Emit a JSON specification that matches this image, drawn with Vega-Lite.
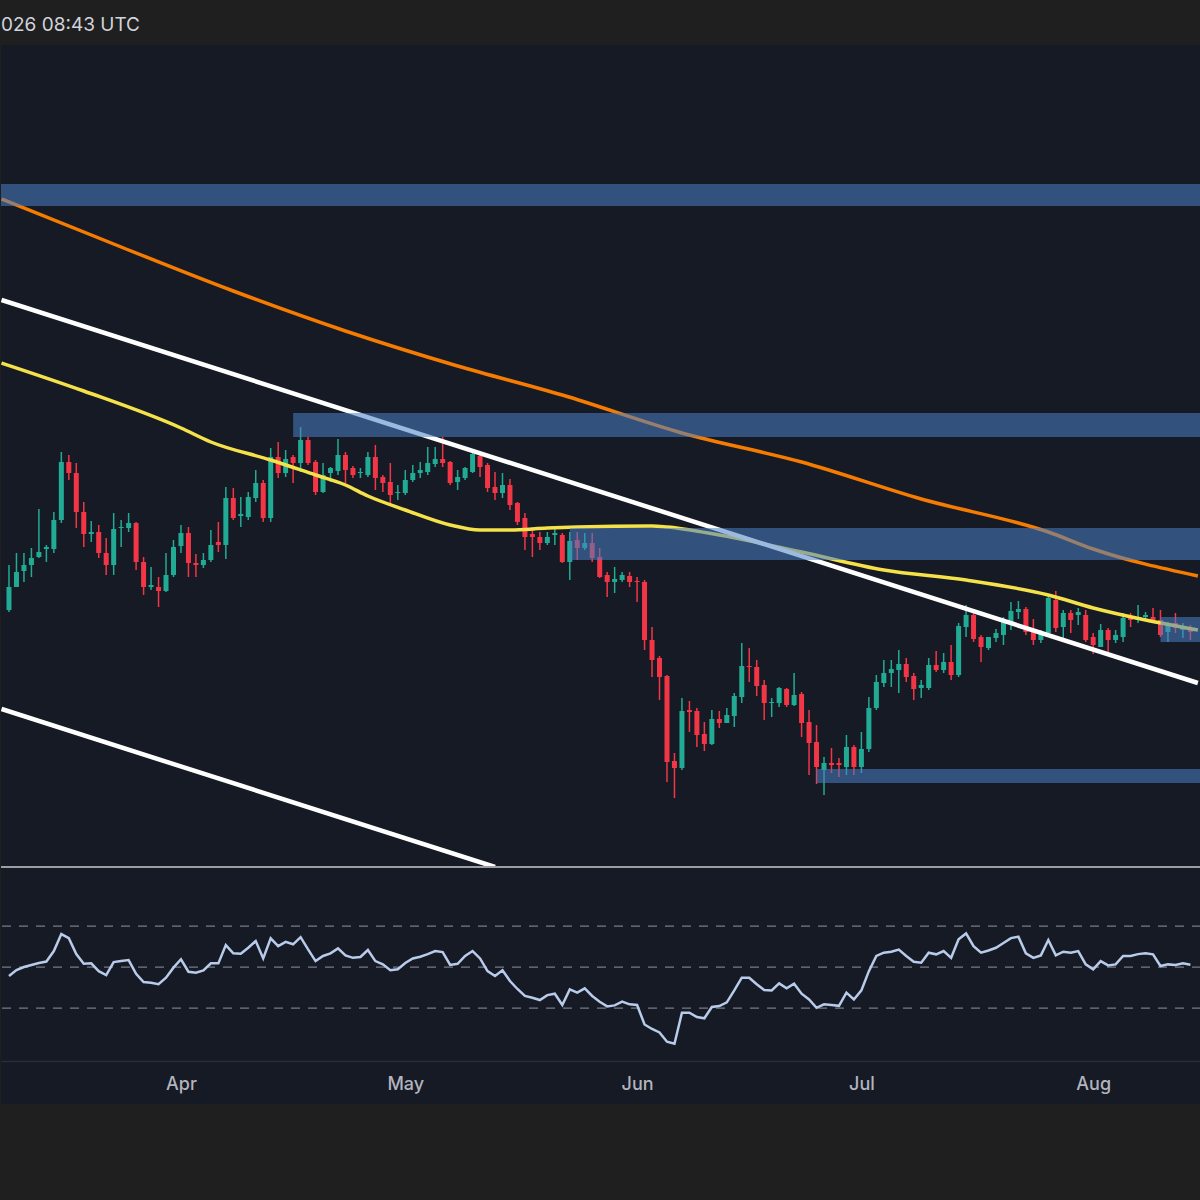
{
  "$schema": "https://vega.github.io/schema/vega-lite/v6.json",
  "description": "Daily candles with two moving averages, trendlines, supply/demand zones and RSI",
  "background": "#1f1f1f",
  "padding": {"left": 0, "top": 16, "right": 0, "bottom": 97},
  "title": {
    "text": "026 08:43 UTC",
    "anchor": "start",
    "frame": "group",
    "font": "Inter",
    "fontSize": 19,
    "fontWeight": "normal",
    "color": "#d1d4dc",
    "offset": 10
  },
  "spacing": 0,
  "config": {
    "view": {"stroke": null},
    "axis": {"grid": false, "ticks": false}
  },
  "resolve": {"scale": {"x": "shared", "y": "independent"}},
  "datasets": {
    "candles": [
      {"d": "2025-03-09", "o": 85.6, "h": 90.1, "l": 85.4, "c": 87.9, "r": 45.6},
      {"d": "2025-03-10", "o": 87.9, "h": 91.3, "l": 87.9, "c": 89.4, "r": 48.5},
      {"d": "2025-03-11", "o": 89.5, "h": 91.3, "l": 88.4, "c": 90.1, "r": 50.0},
      {"d": "2025-03-12", "o": 90.1, "h": 91.8, "l": 88.9, "c": 90.8, "r": 51.0},
      {"d": "2025-03-13", "o": 90.9, "h": 95.7, "l": 90.8, "c": 91.4, "r": 52.0},
      {"d": "2025-03-14", "o": 91.7, "h": 92.1, "l": 90.4, "c": 91.9, "r": 52.7},
      {"d": "2025-03-15", "o": 91.7, "h": 95.4, "l": 91.3, "c": 94.6, "r": 57.8},
      {"d": "2025-03-16", "o": 94.6, "h": 101.4, "l": 94.3, "c": 100.4, "r": 66.1},
      {"d": "2025-03-17", "o": 100.4, "h": 101.1, "l": 98.6, "c": 99.3, "r": 64.1},
      {"d": "2025-03-18", "o": 99.3, "h": 100.3, "l": 93.8, "c": 95.4, "r": 56.3},
      {"d": "2025-03-19", "o": 95.4, "h": 96.4, "l": 91.9, "c": 93.2, "r": 51.6},
      {"d": "2025-03-20", "o": 93.2, "h": 94.5, "l": 92.4, "c": 93.4, "r": 51.8},
      {"d": "2025-03-21", "o": 93.4, "h": 94.1, "l": 90.8, "c": 91.3, "r": 48.0},
      {"d": "2025-03-22", "o": 91.3, "h": 92.8, "l": 89.1, "c": 90.1, "r": 46.1},
      {"d": "2025-03-23", "o": 90.1, "h": 95.3, "l": 89.1, "c": 93.7, "r": 52.4},
      {"d": "2025-03-24", "o": 93.8, "h": 94.6, "l": 91.9, "c": 93.9, "r": 52.9},
      {"d": "2025-03-25", "o": 93.8, "h": 95.3, "l": 93.4, "c": 94.3, "r": 53.4},
      {"d": "2025-03-26", "o": 94.3, "h": 94.4, "l": 89.6, "c": 90.4, "r": 46.7},
      {"d": "2025-03-27", "o": 90.4, "h": 90.9, "l": 87.1, "c": 87.9, "r": 42.7},
      {"d": "2025-03-28", "o": 87.9, "h": 89.9, "l": 87.6, "c": 88.1, "r": 42.3},
      {"d": "2025-03-29", "o": 87.9, "h": 88.9, "l": 85.9, "c": 87.5, "r": 41.6},
      {"d": "2025-03-30", "o": 87.5, "h": 91.3, "l": 87.4, "c": 89.1, "r": 44.8},
      {"d": "2025-03-31", "o": 89.1, "h": 92.6, "l": 88.9, "c": 91.9, "r": 49.7},
      {"d": "2025-04-01", "o": 92.0, "h": 94.1, "l": 91.3, "c": 93.3, "r": 53.8},
      {"d": "2025-04-02", "o": 93.3, "h": 93.9, "l": 88.9, "c": 90.3, "r": 47.7},
      {"d": "2025-04-03", "o": 90.3, "h": 91.2, "l": 88.9, "c": 90.1, "r": 47.2},
      {"d": "2025-04-04", "o": 90.1, "h": 91.3, "l": 89.8, "c": 90.6, "r": 48.4},
      {"d": "2025-04-05", "o": 90.6, "h": 93.6, "l": 90.4, "c": 92.1, "r": 51.8},
      {"d": "2025-04-06", "o": 92.4, "h": 94.4, "l": 91.4, "c": 92.1, "r": 51.8},
      {"d": "2025-04-07", "o": 92.1, "h": 97.9, "l": 90.7, "c": 96.8, "r": 60.7},
      {"d": "2025-04-08", "o": 96.8, "h": 97.8, "l": 94.6, "c": 94.8, "r": 56.7},
      {"d": "2025-04-09", "o": 95.0, "h": 96.9, "l": 93.9, "c": 95.2, "r": 56.5},
      {"d": "2025-04-10", "o": 94.9, "h": 97.4, "l": 94.6, "c": 96.9, "r": 59.4},
      {"d": "2025-04-11", "o": 96.8, "h": 99.6, "l": 96.4, "c": 98.3, "r": 62.7},
      {"d": "2025-04-12", "o": 98.3, "h": 98.6, "l": 94.4, "c": 94.8, "r": 54.2},
      {"d": "2025-04-13", "o": 94.8, "h": 101.8, "l": 94.4, "c": 100.9, "r": 64.0},
      {"d": "2025-04-14", "o": 100.9, "h": 102.4, "l": 98.8, "c": 99.3, "r": 60.2},
      {"d": "2025-04-15", "o": 99.3, "h": 101.6, "l": 98.9, "c": 100.7, "r": 62.3},
      {"d": "2025-04-16", "o": 100.9, "h": 101.1, "l": 98.3, "c": 100.3, "r": 61.1},
      {"d": "2025-04-17", "o": 100.3, "h": 103.9, "l": 99.4, "c": 102.6, "r": 64.6},
      {"d": "2025-04-18", "o": 102.6, "h": 102.9, "l": 100.1, "c": 100.3, "r": 58.6},
      {"d": "2025-04-19", "o": 100.4, "h": 100.6, "l": 97.1, "c": 97.4, "r": 52.9},
      {"d": "2025-04-20", "o": 97.4, "h": 100.3, "l": 97.3, "c": 99.1, "r": 55.4},
      {"d": "2025-04-21", "o": 99.3, "h": 99.9, "l": 98.4, "c": 99.8, "r": 56.7},
      {"d": "2025-04-22", "o": 99.5, "h": 102.7, "l": 99.1, "c": 101.1, "r": 59.1},
      {"d": "2025-04-23", "o": 101.1, "h": 101.4, "l": 98.3, "c": 99.6, "r": 55.7},
      {"d": "2025-04-24", "o": 99.8, "h": 100.0, "l": 98.8, "c": 99.1, "r": 54.5},
      {"d": "2025-04-25", "o": 99.3, "h": 99.8, "l": 98.8, "c": 99.4, "r": 54.9},
      {"d": "2025-04-26", "o": 99.1, "h": 101.4, "l": 98.9, "c": 100.9, "r": 58.3},
      {"d": "2025-04-27", "o": 100.9, "h": 102.1, "l": 97.6, "c": 98.8, "r": 52.9},
      {"d": "2025-04-28", "o": 98.9, "h": 99.1, "l": 97.4, "c": 98.3, "r": 51.3},
      {"d": "2025-04-29", "o": 98.4, "h": 100.3, "l": 96.1, "c": 97.1, "r": 48.5},
      {"d": "2025-04-30", "o": 97.3, "h": 98.1, "l": 96.6, "c": 97.4, "r": 48.9},
      {"d": "2025-05-01", "o": 97.3, "h": 99.6, "l": 97.1, "c": 98.6, "r": 52.0},
      {"d": "2025-05-02", "o": 98.6, "h": 100.1, "l": 98.4, "c": 99.3, "r": 54.2},
      {"d": "2025-05-03", "o": 99.3, "h": 100.4, "l": 98.8, "c": 99.6, "r": 55.0},
      {"d": "2025-05-04", "o": 99.4, "h": 101.9, "l": 99.1, "c": 100.3, "r": 56.3},
      {"d": "2025-05-05", "o": 100.2, "h": 101.9, "l": 99.9, "c": 100.7, "r": 57.8},
      {"d": "2025-05-06", "o": 100.7, "h": 102.9, "l": 99.9, "c": 100.3, "r": 57.3},
      {"d": "2025-05-07", "o": 100.4, "h": 100.5, "l": 98.1, "c": 98.3, "r": 51.0},
      {"d": "2025-05-08", "o": 98.4, "h": 99.6, "l": 97.6, "c": 98.9, "r": 51.6},
      {"d": "2025-05-09", "o": 98.8, "h": 99.9, "l": 98.6, "c": 99.8, "r": 55.4},
      {"d": "2025-05-10", "o": 99.4, "h": 101.4, "l": 99.3, "c": 101.2, "r": 57.8},
      {"d": "2025-05-11", "o": 101.0, "h": 101.1, "l": 98.9, "c": 99.9, "r": 54.2},
      {"d": "2025-05-12", "o": 100.1, "h": 100.3, "l": 97.4, "c": 97.8, "r": 48.0},
      {"d": "2025-05-13", "o": 97.9, "h": 99.4, "l": 96.6, "c": 97.3, "r": 45.6},
      {"d": "2025-05-14", "o": 97.3, "h": 99.3, "l": 96.8, "c": 98.1, "r": 48.4},
      {"d": "2025-05-15", "o": 98.1, "h": 98.7, "l": 95.6, "c": 96.1, "r": 43.2},
      {"d": "2025-05-16", "o": 96.3, "h": 96.4, "l": 94.1, "c": 94.4, "r": 39.3},
      {"d": "2025-05-17", "o": 94.8, "h": 95.3, "l": 91.6, "c": 92.9, "r": 35.9},
      {"d": "2025-05-18", "o": 93.2, "h": 93.9, "l": 90.9, "c": 92.9, "r": 35.0},
      {"d": "2025-05-19", "o": 92.9, "h": 93.4, "l": 91.6, "c": 92.3, "r": 33.9},
      {"d": "2025-05-20", "o": 92.3, "h": 93.4, "l": 92.1, "c": 92.9, "r": 36.3},
      {"d": "2025-05-21", "o": 93.1, "h": 93.8, "l": 92.1, "c": 93.3, "r": 37.0},
      {"d": "2025-05-22", "o": 93.1, "h": 93.3, "l": 90.3, "c": 90.4, "r": 31.5},
      {"d": "2025-05-23", "o": 90.4, "h": 93.4, "l": 88.6, "c": 92.5, "r": 39.1},
      {"d": "2025-05-24", "o": 92.6, "h": 93.4, "l": 90.6, "c": 91.8, "r": 37.5},
      {"d": "2025-05-25", "o": 91.8, "h": 93.3, "l": 91.6, "c": 92.3, "r": 39.6},
      {"d": "2025-05-26", "o": 92.3, "h": 93.3, "l": 90.4, "c": 90.8, "r": 35.9},
      {"d": "2025-05-27", "o": 90.9, "h": 91.8, "l": 88.8, "c": 88.9, "r": 33.1},
      {"d": "2025-05-28", "o": 89.1, "h": 89.4, "l": 86.9, "c": 88.4, "r": 30.8},
      {"d": "2025-05-29", "o": 88.4, "h": 89.9, "l": 87.3, "c": 88.7, "r": 31.3},
      {"d": "2025-05-30", "o": 88.6, "h": 89.4, "l": 88.4, "c": 89.1, "r": 33.1},
      {"d": "2025-05-31", "o": 89.0, "h": 89.4, "l": 87.9, "c": 88.4, "r": 31.8},
      {"d": "2025-06-01", "o": 88.5, "h": 88.9, "l": 86.4, "c": 88.4, "r": 31.5},
      {"d": "2025-06-02", "o": 88.4, "h": 88.6, "l": 81.6, "c": 82.6, "r": 22.0},
      {"d": "2025-06-03", "o": 82.6, "h": 83.9, "l": 78.9, "c": 80.6, "r": 19.8},
      {"d": "2025-06-04", "o": 80.8, "h": 81.0, "l": 76.6, "c": 78.9, "r": 18.1},
      {"d": "2025-06-05", "o": 79.0, "h": 79.1, "l": 68.4, "c": 70.4, "r": 13.6},
      {"d": "2025-06-06", "o": 70.5, "h": 71.3, "l": 66.8, "c": 69.8, "r": 12.6},
      {"d": "2025-06-07", "o": 69.8, "h": 76.8, "l": 69.6, "c": 75.5, "r": 27.7},
      {"d": "2025-06-08", "o": 75.6, "h": 76.5, "l": 73.4, "c": 75.4, "r": 27.7},
      {"d": "2025-06-09", "o": 75.5, "h": 75.8, "l": 71.9, "c": 73.1, "r": 25.6},
      {"d": "2025-06-10", "o": 73.2, "h": 74.4, "l": 71.5, "c": 72.2, "r": 25.0},
      {"d": "2025-06-11", "o": 72.2, "h": 75.6, "l": 72.1, "c": 74.7, "r": 30.5},
      {"d": "2025-06-12", "o": 74.7, "h": 75.5, "l": 73.8, "c": 74.3, "r": 31.0},
      {"d": "2025-06-13", "o": 74.3, "h": 75.8, "l": 74.3, "c": 75.1, "r": 32.8},
      {"d": "2025-06-14", "o": 75.0, "h": 77.3, "l": 73.9, "c": 77.0, "r": 38.6},
      {"d": "2025-06-15", "o": 76.9, "h": 82.3, "l": 76.3, "c": 80.0, "r": 44.8},
      {"d": "2025-06-16", "o": 80.0, "h": 81.8, "l": 78.4, "c": 79.9, "r": 44.8},
      {"d": "2025-06-17", "o": 79.9, "h": 80.6, "l": 77.0, "c": 78.0, "r": 41.6},
      {"d": "2025-06-18", "o": 78.1, "h": 78.6, "l": 74.6, "c": 76.3, "r": 38.8},
      {"d": "2025-06-19", "o": 76.3, "h": 76.8, "l": 74.9, "c": 76.4, "r": 38.6},
      {"d": "2025-06-20", "o": 76.3, "h": 77.9, "l": 75.9, "c": 77.8, "r": 42.0},
      {"d": "2025-06-21", "o": 77.7, "h": 77.8, "l": 75.9, "c": 76.1, "r": 39.6},
      {"d": "2025-06-22", "o": 76.1, "h": 79.3, "l": 76.0, "c": 77.1, "r": 41.9},
      {"d": "2025-06-23", "o": 77.2, "h": 77.4, "l": 72.9, "c": 74.3, "r": 37.0},
      {"d": "2025-06-24", "o": 74.4, "h": 75.6, "l": 69.1, "c": 72.3, "r": 34.2},
      {"d": "2025-06-25", "o": 72.4, "h": 74.1, "l": 68.2, "c": 69.9, "r": 30.1},
      {"d": "2025-06-26", "o": 69.6, "h": 70.9, "l": 67.1, "c": 70.3, "r": 31.8},
      {"d": "2025-06-27", "o": 70.3, "h": 71.8, "l": 69.3, "c": 70.1, "r": 31.5},
      {"d": "2025-06-28", "o": 70.3, "h": 70.8, "l": 68.9, "c": 70.1, "r": 31.1},
      {"d": "2025-06-29", "o": 69.9, "h": 73.1, "l": 69.1, "c": 71.9, "r": 37.5},
      {"d": "2025-06-30", "o": 71.9, "h": 72.1, "l": 69.1, "c": 69.9, "r": 34.2},
      {"d": "2025-07-01", "o": 69.9, "h": 73.4, "l": 69.3, "c": 71.7, "r": 38.6},
      {"d": "2025-07-02", "o": 71.7, "h": 76.9, "l": 71.4, "c": 75.8, "r": 48.0},
      {"d": "2025-07-03", "o": 75.8, "h": 79.1, "l": 75.6, "c": 78.4, "r": 55.4},
      {"d": "2025-07-04", "o": 78.3, "h": 80.6, "l": 77.9, "c": 79.3, "r": 57.0},
      {"d": "2025-07-05", "o": 79.3, "h": 80.6, "l": 77.9, "c": 79.7, "r": 57.5},
      {"d": "2025-07-06", "o": 79.6, "h": 81.6, "l": 77.3, "c": 80.2, "r": 58.5},
      {"d": "2025-07-07", "o": 80.2, "h": 80.8, "l": 78.4, "c": 78.9, "r": 55.4},
      {"d": "2025-07-08", "o": 79.0, "h": 79.3, "l": 76.6, "c": 77.7, "r": 52.6},
      {"d": "2025-07-09", "o": 77.8, "h": 78.6, "l": 76.8, "c": 78.1, "r": 52.1},
      {"d": "2025-07-10", "o": 77.8, "h": 80.8, "l": 77.6, "c": 80.1, "r": 57.0},
      {"d": "2025-07-11", "o": 80.1, "h": 81.5, "l": 79.4, "c": 79.6, "r": 56.2},
      {"d": "2025-07-12", "o": 79.6, "h": 81.3, "l": 79.3, "c": 80.4, "r": 57.8},
      {"d": "2025-07-13", "o": 80.4, "h": 82.1, "l": 78.6, "c": 79.1, "r": 54.5},
      {"d": "2025-07-14", "o": 79.1, "h": 84.3, "l": 78.9, "c": 84.0, "r": 63.5},
      {"d": "2025-07-15", "o": 83.9, "h": 86.1, "l": 82.9, "c": 85.1, "r": 66.4},
      {"d": "2025-07-16", "o": 85.1, "h": 85.4, "l": 82.4, "c": 82.7, "r": 60.2},
      {"d": "2025-07-17", "o": 82.9, "h": 83.1, "l": 80.4, "c": 81.9, "r": 57.0},
      {"d": "2025-07-18", "o": 81.8, "h": 82.9, "l": 81.6, "c": 82.9, "r": 58.1},
      {"d": "2025-07-19", "o": 82.8, "h": 83.7, "l": 82.4, "c": 83.3, "r": 59.4},
      {"d": "2025-07-20", "o": 83.1, "h": 84.9, "l": 82.1, "c": 84.5, "r": 61.7},
      {"d": "2025-07-21", "o": 84.4, "h": 86.4, "l": 83.6, "c": 85.5, "r": 64.1},
      {"d": "2025-07-22", "o": 85.4, "h": 86.5, "l": 84.7, "c": 85.7, "r": 64.8},
      {"d": "2025-07-23", "o": 85.7, "h": 85.9, "l": 83.1, "c": 83.4, "r": 56.7},
      {"d": "2025-07-24", "o": 83.5, "h": 84.7, "l": 82.1, "c": 82.6, "r": 54.5},
      {"d": "2025-07-25", "o": 82.6, "h": 83.6, "l": 82.3, "c": 83.3, "r": 55.7},
      {"d": "2025-07-26", "o": 83.3, "h": 87.1, "l": 83.1, "c": 86.8, "r": 63.2},
      {"d": "2025-07-27", "o": 86.6, "h": 87.5, "l": 83.4, "c": 83.8, "r": 55.7},
      {"d": "2025-07-28", "o": 83.9, "h": 85.6, "l": 82.8, "c": 85.3, "r": 57.5},
      {"d": "2025-07-29", "o": 85.3, "h": 85.6, "l": 83.3, "c": 84.6, "r": 57.0},
      {"d": "2025-07-30", "o": 85.1, "h": 85.8, "l": 84.1, "c": 85.4, "r": 57.8},
      {"d": "2025-07-31", "o": 85.1, "h": 85.6, "l": 82.4, "c": 82.6, "r": 51.3},
      {"d": "2025-08-01", "o": 82.9, "h": 83.3, "l": 81.2, "c": 82.1, "r": 48.9},
      {"d": "2025-08-02", "o": 81.9, "h": 84.2, "l": 81.9, "c": 83.6, "r": 52.9},
      {"d": "2025-08-03", "o": 83.6, "h": 83.8, "l": 81.4, "c": 82.6, "r": 50.8},
      {"d": "2025-08-04", "o": 82.6, "h": 83.6, "l": 82.3, "c": 83.1, "r": 51.3},
      {"d": "2025-08-05", "o": 82.9, "h": 85.3, "l": 82.4, "c": 84.8, "r": 55.4},
      {"d": "2025-08-06", "o": 84.9, "h": 85.3, "l": 83.9, "c": 84.6, "r": 55.4},
      {"d": "2025-08-07", "o": 84.6, "h": 86.1, "l": 84.3, "c": 84.9, "r": 56.3},
      {"d": "2025-08-08", "o": 84.9, "h": 85.4, "l": 84.6, "c": 85.1, "r": 56.7},
      {"d": "2025-08-09", "o": 84.9, "h": 85.8, "l": 84.4, "c": 84.6, "r": 56.2},
      {"d": "2025-08-10", "o": 84.6, "h": 85.6, "l": 82.9, "c": 83.1, "r": 50.5},
      {"d": "2025-08-11", "o": 83.4, "h": 84.4, "l": 82.4, "c": 84.1, "r": 51.3},
      {"d": "2025-08-12", "o": 84.3, "h": 85.3, "l": 83.3, "c": 83.8, "r": 51.0},
      {"d": "2025-08-13", "o": 83.6, "h": 84.3, "l": 82.8, "c": 83.9, "r": 51.8},
      {"d": "2025-08-14", "o": 83.8, "h": 84.1, "l": 82.6, "c": 83.4, "r": 51.1}
    ],
    "lines": [
      {"name": "ma100", "d": "2025-03-08", "v": 110.3},
      {"name": "ma100", "d": "2025-03-19", "v": 107.5},
      {"name": "ma100", "d": "2025-04-01", "v": 103.8},
      {"name": "ma100", "d": "2025-04-05", "v": 102.4},
      {"name": "ma100", "d": "2025-04-13", "v": 100.6},
      {"name": "ma100", "d": "2025-04-19", "v": 99.1},
      {"name": "ma100", "d": "2025-04-23", "v": 98.1},
      {"name": "ma100", "d": "2025-04-26", "v": 97.0},
      {"name": "ma100", "d": "2025-05-01", "v": 95.6},
      {"name": "ma100", "d": "2025-05-07", "v": 94.1},
      {"name": "ma100", "d": "2025-05-11", "v": 93.6},
      {"name": "ma100", "d": "2025-05-15", "v": 93.6},
      {"name": "ma100", "d": "2025-05-20", "v": 93.8},
      {"name": "ma100", "d": "2025-05-24", "v": 93.9},
      {"name": "ma100", "d": "2025-06-03", "v": 94.0},
      {"name": "ma100", "d": "2025-06-05", "v": 93.9},
      {"name": "ma100", "d": "2025-06-12", "v": 93.1},
      {"name": "ma100", "d": "2025-06-23", "v": 91.4},
      {"name": "ma100", "d": "2025-07-04", "v": 89.6},
      {"name": "ma100", "d": "2025-07-15", "v": 88.6},
      {"name": "ma100", "d": "2025-07-26", "v": 87.1},
      {"name": "ma100", "d": "2025-08-01", "v": 85.8},
      {"name": "ma100", "d": "2025-08-08", "v": 84.6},
      {"name": "ma100", "d": "2025-08-15", "v": 83.6},
      {"name": "ma200", "d": "2025-03-08", "v": 126.7},
      {"name": "ma200", "d": "2025-03-24", "v": 121.9},
      {"name": "ma200", "d": "2025-04-08", "v": 117.5},
      {"name": "ma200", "d": "2025-04-23", "v": 113.5},
      {"name": "ma200", "d": "2025-05-08", "v": 110.0},
      {"name": "ma200", "d": "2025-05-22", "v": 107.1},
      {"name": "ma200", "d": "2025-06-07", "v": 103.3},
      {"name": "ma200", "d": "2025-06-23", "v": 100.4},
      {"name": "ma200", "d": "2025-07-09", "v": 96.7},
      {"name": "ma200", "d": "2025-07-26", "v": 93.4},
      {"name": "ma200", "d": "2025-08-01", "v": 91.7},
      {"name": "ma200", "d": "2025-08-15", "v": 89.0}
    ],
    "trend": [
      {"name": "upper", "d": "2025-03-08", "v": 116.6},
      {"name": "upper", "d": "2025-08-15", "v": 78.3},
      {"name": "lower", "d": "2025-03-08", "v": 75.7},
      {"name": "lower", "d": "2025-05-13", "v": 59.9}
    ],
    "zones": [
      {"start": "2025-03-01", "end": "2025-08-20", "top": 128.2, "bottom": 126.0},
      {"start": "2025-04-16", "end": "2025-08-20", "top": 105.3, "bottom": 102.9},
      {"start": "2025-05-23", "end": "2025-08-20", "top": 93.8, "bottom": 90.6},
      {"start": "2025-08-10", "end": "2025-08-20", "top": 84.9, "bottom": 82.4},
      {"start": "2025-06-25", "end": "2025-08-20", "top": 69.7, "bottom": 68.3}
    ],
    "levels": [
      {"level": 70},
      {"level": 50},
      {"level": 30}
    ]
  },
  "vconcat": [
    {
      "width": 1200,
      "height": 821,
      "view": {"fill": "#161a25"},
      "layer": [
        {
          "data": {"name": "candles"},
          "mark": {"type": "rule", "strokeWidth": 1.5},
          "encoding": {
            "x": {"field": "d", "type": "temporal", "axis": null,
                  "scale": {"type": "utc", "domain": [{"year": 2025, "month": 3, "date": 8, "hours": 14, "minutes": 24, "utc": true}, {"year": 2025, "month": 8, "date": 14, "hours": 18, "utc": true}]}},
            "y": {"field": "h", "type": "quantitative", "axis": null, "scale": {"domain": [60, 142.1], "nice": false, "zero": false}},
            "y2": {"field": "l"},
            "color": {"condition": {"test": "datum.c >= datum.o", "value": "#22ab94"}, "value": "#f23645"}
          }
        },
        {
          "data": {"name": "candles"},
          "mark": {"type": "bar", "size": 5},
          "encoding": {
            "x": {"field": "d", "type": "temporal", "axis": null},
            "y": {"field": "o", "type": "quantitative", "axis": null},
            "y2": {"field": "c"},
            "color": {"condition": {"test": "datum.c >= datum.o", "value": "#22ab94"}, "value": "#f23645"}
          }
        },
        {
          "data": {"name": "lines"},
          "mark": {"type": "line", "strokeWidth": 3.5, "interpolate": "monotone", "clip": true},
          "encoding": {
            "x": {"field": "d", "type": "temporal", "axis": null},
            "y": {"field": "v", "type": "quantitative", "axis": null},
            "detail": {"field": "name"},
            "color": {"field": "name", "type": "nominal", "legend": null,
                      "scale": {"domain": ["ma100", "ma200"], "range": ["#f5e24a", "#f57c00"]}}
          }
        },
        {
          "data": {"name": "trend"},
          "mark": {"type": "line", "strokeWidth": 4.5, "color": "#ffffff", "clip": true},
          "encoding": {
            "x": {"field": "d", "type": "temporal", "axis": null},
            "y": {"field": "v", "type": "quantitative", "axis": null},
            "detail": {"field": "name"}
          }
        },
        {
          "data": {"name": "zones"},
          "mark": {"type": "rect", "color": "#4a7fc4", "opacity": 0.55, "clip": true},
          "encoding": {
            "x": {"field": "start", "type": "temporal", "axis": null},
            "x2": {"field": "end"},
            "y": {"field": "top", "type": "quantitative", "axis": null},
            "y2": {"field": "bottom"}
          }
        }
      ]
    },
    {
      "width": 1200,
      "height": 237,
      "view": {"fill": "#161a25"},
      "layer": [
        {
          "data": {"name": "levels"},
          "mark": {"type": "rule", "color": "#787b86", "strokeWidth": 1.2, "strokeDash": [9, 8]},
          "encoding": {
            "y": {"field": "level", "type": "quantitative", "axis": null,
                  "scale": {"domain": [-16.8, 98.8], "nice": false, "zero": false}}
          }
        },
        {
          "data": {"name": "candles"},
          "mark": {"type": "line", "color": "#b8cbea", "strokeWidth": 2.5},
          "encoding": {
            "x": {"field": "d", "type": "temporal",
                  "scale": {"type": "utc", "domain": [{"year": 2025, "month": 3, "date": 8, "hours": 14, "minutes": 24, "utc": true}, {"year": 2025, "month": 8, "date": 14, "hours": 18, "utc": true}]},
                  "axis": {"title": null, "orient": "bottom", "offset": -43, "format": "%b",
                           "values": [{"year": 2025, "month": 4, "date": 1, "utc": true}, {"year": 2025, "month": 5, "date": 1, "utc": true}, {"year": 2025, "month": 6, "date": 1, "utc": true}, {"year": 2025, "month": 7, "date": 1, "utc": true}, {"year": 2025, "month": 8, "date": 1, "utc": true}],
                           "domainColor": "#2a2e39", "domainWidth": 1.5, "labelColor": "#b2b5be",
                           "labelFont": "Inter", "labelFontSize": 18, "labelFontWeight": 500, "labelPadding": 14}},
            "y": {"field": "r", "type": "quantitative", "axis": null}
          }
        },
        {
          "data": {"values": [{"edge": 98.8}]},
          "mark": {"type": "rule", "color": "#c8cad0", "strokeWidth": 1.5},
          "encoding": {
            "y": {"field": "edge", "type": "quantitative", "axis": null}
          }
        }
      ]
    }
  ]
}
